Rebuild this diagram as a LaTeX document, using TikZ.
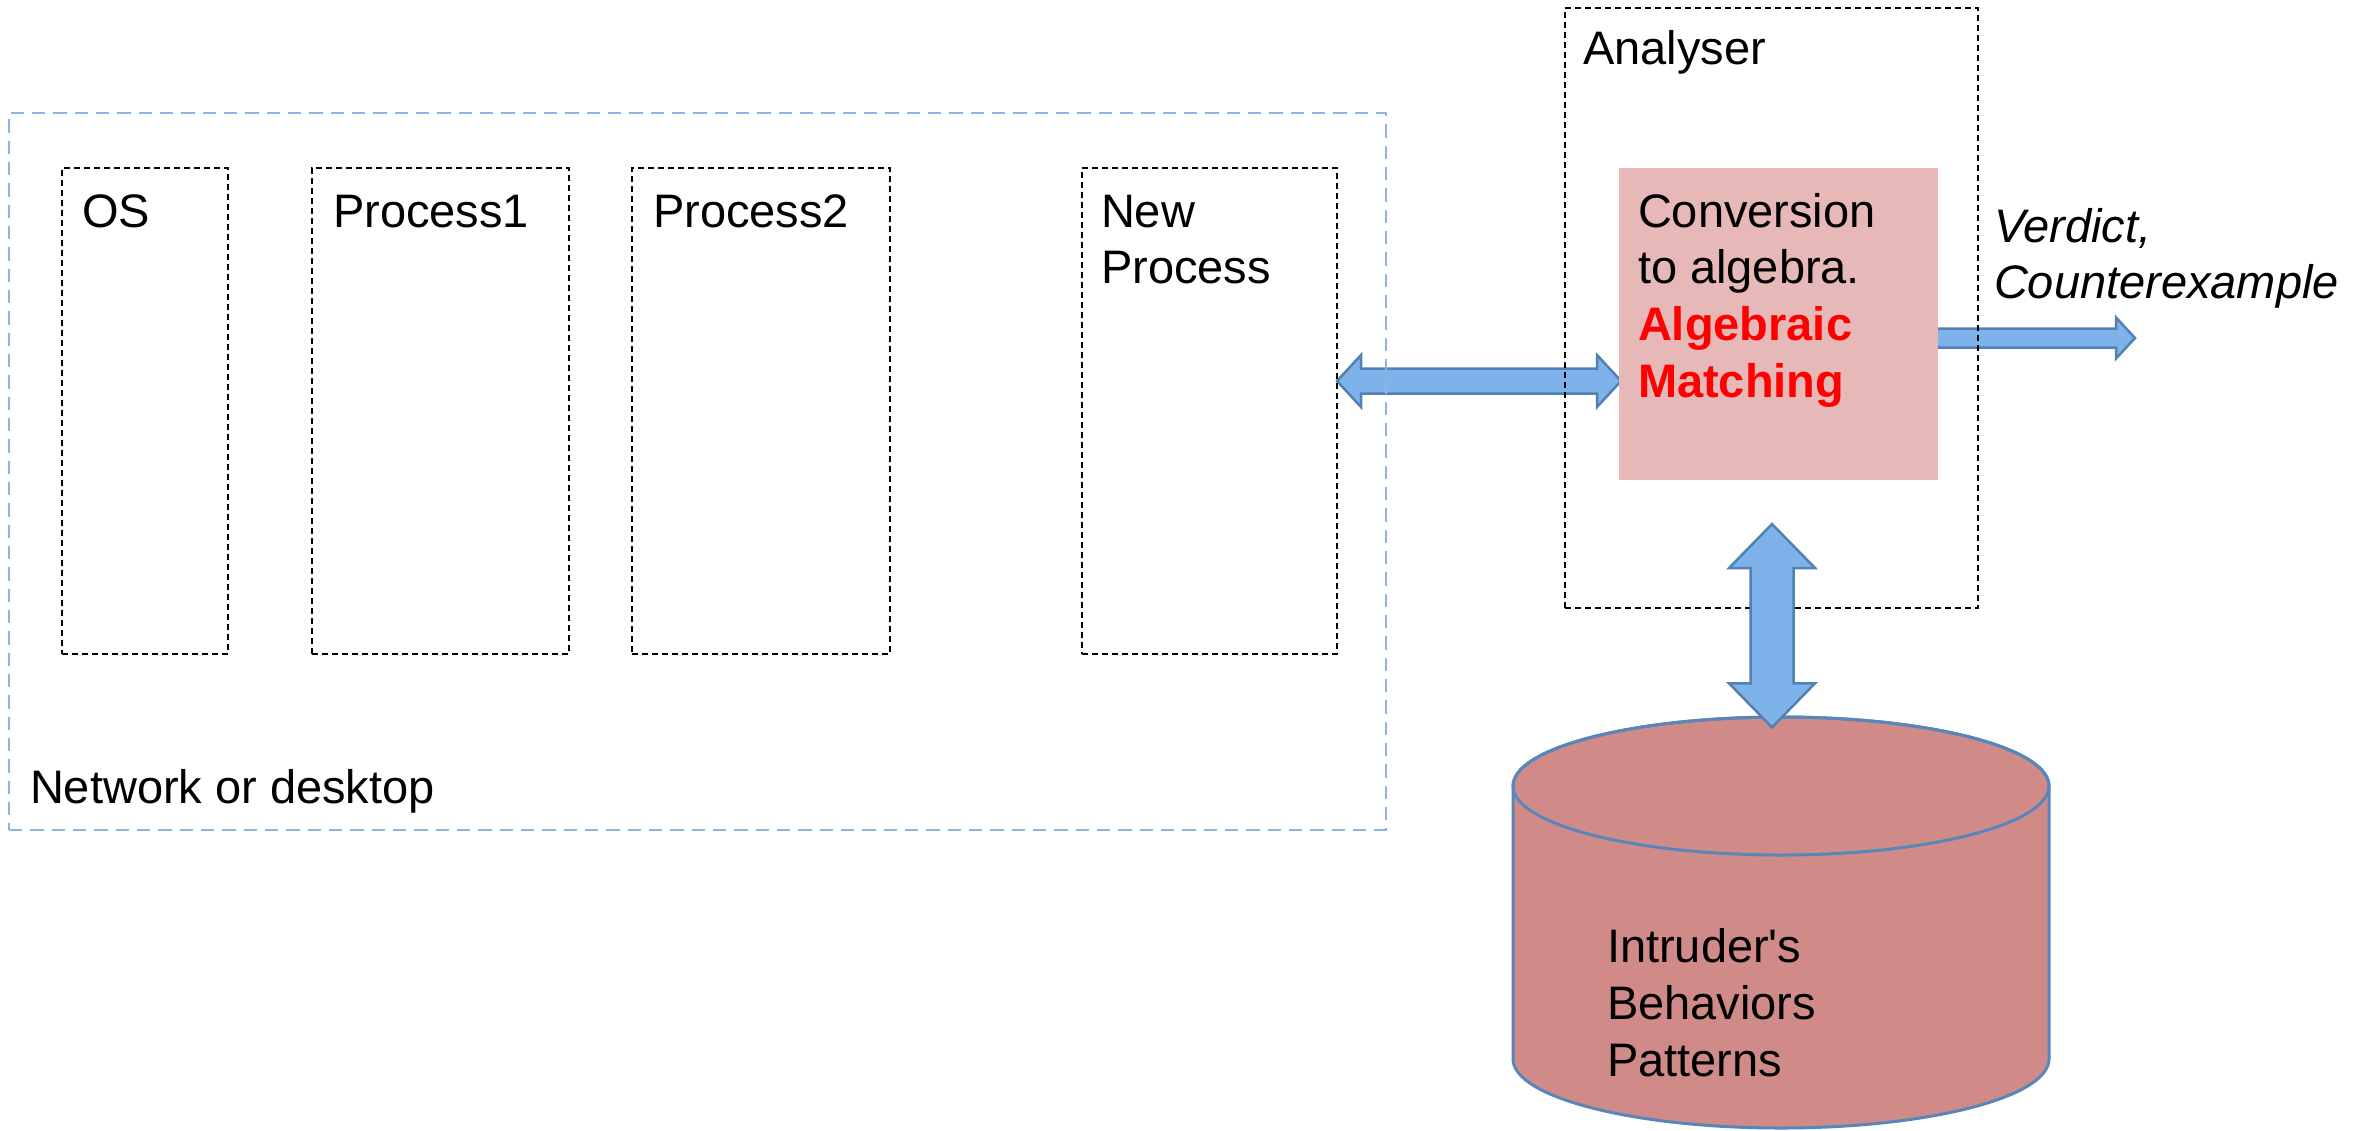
\documentclass[tikz,border=0pt]{standalone}
\usepackage{fontspec}
\setmainfont{Liberation Sans}
\usetikzlibrary{calc,fit}
\definecolor{netblue}{RGB}{141,180,226}
\definecolor{arrowfill}{RGB}{126,178,234}
\definecolor{arrowline}{RGB}{84,128,178}
\definecolor{convpink}{RGB}{230,184,183}
\definecolor{dbred}{RGB}{208,139,137}
\definecolor{dbline}{RGB}{88,134,184}
\pgfdeclarelayer{back}
\pgfsetlayers{back,main}
\tikzset{
  txt/.style={font=\fontsize{14.1}{16.9}\selectfont, inner sep=0pt, outer sep=0pt, anchor=base west},
  procbox/.style={draw=black, line width=0.6pt, dash pattern=on 1.8pt off 1.2pt, inner sep=0pt, outer sep=0pt},
  netbox/.style={draw=netblue, line width=0.6pt, dash pattern=on 4pt off 2.4pt, inner sep=0pt, outer sep=0pt},
  convbox/.style={fill=convpink, inner sep=0pt, outer sep=0pt},
  fatarrow/.style={fill=arrowfill, draw=arrowline, line width=0.75pt, line join=miter},
  dbshape/.style={fill=dbred, draw=dbline, line width=0.9pt},
}
\begin{document}
\begin{tikzpicture}[x=0.3pt, y=-0.3pt]
\useasboundingbox (0,0) rectangle (2372,1130);

% network / desktop area and its processes
\node[netbox, fit={(9,113) (1386,830)}] (net) {};
\node[procbox, fit={(62,168) (228,654)}] (os) {};
\node[procbox, fit={(312,168) (569,654)}] (p1) {};
\node[procbox, fit={(632,168) (890,654)}] (p2) {};
\node[procbox, fit={(1082,168) (1337,654)}] (np) {};

% analyser with its conversion / matching stage
\node[procbox, fit={(1565,8) (1978,608)}] (an) {};
\node[convbox, fit={(1619,168) (1938,480)}] (conv) {};

% database of intruder behaviour patterns
\node[inner sep=0pt, fit={(1513,717) (2049,1128)}] (db) {};
\path[dbshape] (1513,786) -- (1513,1059)
  arc[start angle=180, end angle=0, x radius=268, y radius=69]
  -- (2049,786)
  arc[start angle=0, end angle=-180, x radius=268, y radius=69] -- cycle;
\draw[dbline, line width=0.9pt] (1781,786) ellipse [x radius=268, y radius=69];

% arrow end points
\coordinate (hl) at ($(np.east)+(0,-30)$);
\coordinate (hr) at ($(conv.west)+(2,57)$);
\coordinate (rs) at ($(conv.east)+(-2,14)$);
\coordinate (rt) at (2135,338);
\coordinate (vt) at ($(conv.south)+(-6.5,44)$);
\coordinate (vb) at ($(db.north)+(-9,11)$);

\begin{pgfonlayer}{back}
% New Process <-> Analyser
\draw[fatarrow] (hl) -- ($(hl)+(24,-26)$) -- ($(hl)+(24,-12.5)$)
  -- ($(hr)+(-24,-12.5)$) -- ($(hr)+(-24,-26)$) -- (hr)
  -- ($(hr)+(-24,26)$) -- ($(hr)+(-24,12.5)$)
  -- ($(hl)+(24,12.5)$) -- ($(hl)+(24,26)$) -- cycle;
% verdict output
\draw[fatarrow] ($(rs)+(0,-9.5)$) -- ($(rt)+(-19,-9.5)$) -- ($(rt)+(-19,-20.5)$)
  -- (rt) -- ($(rt)+(-19,20.5)$) -- ($(rt)+(-19,9.5)$) -- ($(rs)+(0,9.5)$) -- cycle;
\end{pgfonlayer}

% Analyser <-> database
\draw[fatarrow] (vt) -- ($(vt)+(43,44)$) -- ($(vt)+(21.5,44)$)
  -- ($(vb)+(21.5,-44)$) -- ($(vb)+(43,-44)$) -- (vb)
  -- ($(vb)+(-43,-44)$) -- ($(vb)+(-21.5,-44)$)
  -- ($(vt)+(-21.5,44)$) -- ($(vt)+(-43,44)$) -- cycle;

% labels
\node[txt] (osl) at (82,227) {OS};
\node[txt] (p1l) at (333,227) {Process1};
\node[txt] (p2l) at (653,227) {Process2};
\node[txt] (npl1) at (1101,227) {New};
\node[txt] (npl2) at (1101,283) {Process};
\node[txt] (netl) at (30,803) {Network or desktop};
\node[txt] (anl) at (1583,64) {Analyser};
\node[txt] (cv1) at (1638,227) {Conversion};
\node[txt] (cv2) at (1638,283) {to algebra.};
\node[txt, text=red, font=\fontsize{14.1}{16.9}\selectfont\bfseries] (cv3) at (1638,340) {Algebraic};
\node[txt, text=red, font=\fontsize{14.1}{16.9}\selectfont\bfseries] (cv4) at (1638,397) {Matching};
\node[txt, font=\fontsize{14.1}{16.9}\selectfont\itshape] (vd1) at (1994,242) {Verdict,};
\node[txt, font=\fontsize{14.1}{16.9}\selectfont\itshape] (vd2) at (1994,298) {Counterexample};
\node[txt] (db1) at (1607,962) {Intruder\textquotesingle s};
\node[txt] (db2) at (1607,1019) {Behaviors};
\node[txt] (db3) at (1607,1076) {Patterns};
\end{tikzpicture}
\end{document}
